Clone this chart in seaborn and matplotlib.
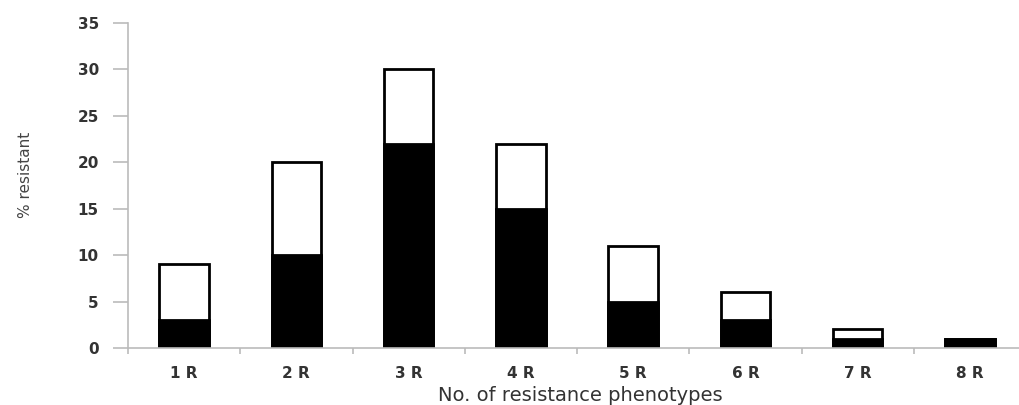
import matplotlib
matplotlib.use("Agg")
import matplotlib.pyplot as plt
import seaborn as sns
import pandas as pd

categories = ["1 R", "2 R", "3 R", "4 R", "5 R", "6 R", "7 R", "8 R"]
total_resistant = [9, 20, 30, 22, 11, 6, 2, 1]
black_part = [3, 10, 22, 15, 5, 3, 1, 1]
y_ticks = [0, 5, 10, 15, 20, 25, 30, 35]

sns.set_theme(style="white")
plt.rcParams['font.family'] = ['DejaVu Sans']

df = pd.DataFrame({"cat": categories, "total": total_resistant, "black": black_part})

fig = plt.figure(figsize=(10.19, 4.05), dpi=100)
ax = fig.add_axes([128/1019, 57/405, (1026-128)/1019, (382-57)/405])

sns.barplot(data=df, x="cat", y="total", color="white", edgecolor="black",
            linewidth=2, width=0.44, ax=ax, saturation=1)
sns.barplot(data=df, x="cat", y="black", color="black", edgecolor="black",
            linewidth=2, width=0.44, ax=ax, saturation=1)

ax.set_ylim(0, 35)
ax.set_xlim(-0.5, 7.5)
ax.set_yticks(y_ticks)
ax.set_yticklabels([str(v) for v in y_ticks], fontsize=11, color="#333333", fontweight="bold")
ax.set_xticks(range(len(categories)))
ax.set_xticklabels(categories, fontsize=11, color="#333333", fontweight="bold")
ax.set_xticks([i + 0.5 for i in range(-1, len(categories))], minor=True)

for s in ["top", "right"]:
    ax.spines[s].set_visible(False)
for s in ["left", "bottom"]:
    ax.spines[s].set_color("#bbbbbb")
    ax.spines[s].set_linewidth(1.2)

ax.tick_params(axis="y", which="major", direction="out", length=11, width=1.2,
               color="#bbbbbb", pad=10, left=True)
ax.tick_params(axis="x", which="major", length=0, pad=13)
ax.tick_params(axis="x", which="minor", direction="out", length=4, width=1.2,
               color="#bbbbbb", bottom=True)

ax.set_ylabel("% resistant", fontsize=11, color="#444444")
ax.yaxis.set_label_coords(-95/898, (348-175)/325)
ax.set_xlabel("No. of resistance phenotypes", fontsize=14, color="#333333")
ax.xaxis.set_label_coords((580-128)/(1026-128), -38/325)

fig.savefig("out.png", dpi=100)
